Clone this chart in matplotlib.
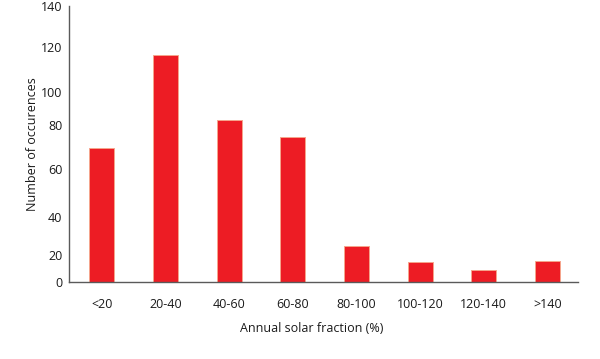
import numpy as np
import matplotlib
matplotlib.use("Agg")
import matplotlib.pyplot as plt

categories = ["<20", "20-40", "40-60", "60-80", "80-100", "100-120", "120-140", ">140"]
occurrences = [69.5, 116.5, 83.3, 74.5, 24.6, 14.7, 9.1, 15.4]
y_ticks = [0, 20, 40, 60, 80, 100, 120, 140]

# the printed y axis is not evenly spaced: tick value -> relative height on the axis
tick_heights = [0.0, 0.0995, 0.237, 0.4105, 0.5695, 0.689, 0.8517, 1.0]

def forward(v):
    return np.interp(v, y_ticks, tick_heights, left=0, right=1)

def inverse(h):
    return np.interp(h, tick_heights, y_ticks)

plt.rcParams["font.family"] = ["Open Sans", "DejaVu Sans"]

fig = plt.figure(figsize=(6, 3.59), dpi=100)
ax = fig.add_axes([0.1158, 0.2131, 0.8475, 0.7702])

x = np.arange(len(categories))
ax.bar(x, occurrences, width=0.39, color="#ED1C24", edgecolor="#F6A58C", linewidth=0.7, zorder=2)

ax.set_yscale("function", functions=(forward, inverse))
ax.set_ylim(0, 140)
ax.set_yticks(y_ticks)
ax.set_yticklabels([str(t) for t in y_ticks])
ax.set_xlim(-0.507, 7.48)
ax.set_xticks(x)
ax.set_xticklabels(categories)
ax.minorticks_off()

for side in ["top", "right"]:
    ax.spines[side].set_visible(False)
for side in ["left", "bottom"]:
    ax.spines[side].set_color("#5a5a5a")
    ax.spines[side].set_linewidth(1.0)

ax.tick_params(axis="y", length=0, pad=5, labelsize=9, labelcolor="#1a1a1a")
ax.tick_params(axis="x", length=0, pad=11, labelsize=9, labelcolor="#1a1a1a")

ax.set_ylabel("Number of occurences", fontsize=9, color="#1a1a1a")
ax.yaxis.set_label_coords(-0.072, 0.5)
ax.yaxis.label.set_va("center")
ax.set_xlabel("Annual solar fraction (%)", fontsize=9, color="#1a1a1a")
ax.xaxis.set_label_coords(0.477, -0.165)
ax.xaxis.label.set_va("center")

fig.savefig("out.png", dpi=100)
